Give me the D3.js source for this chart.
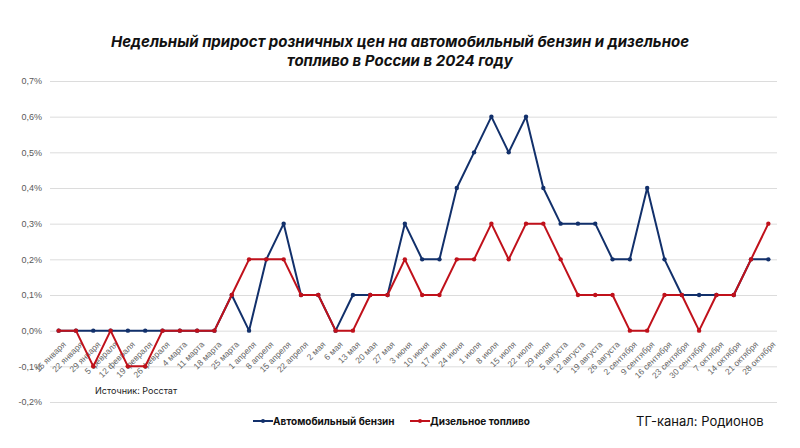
<!DOCTYPE html>
<html>
<head>
<meta charset="utf-8">
<script src="https://cdn.jsdelivr.net/npm/d3@7"></script>
<style>
  body { margin: 0; background: #fff; }
  svg { display: block; font-family: Inter, "Noto Sans", sans-serif; }
</style>
</head>
<body>
<div id="graph"></div>
<script>
// weeks (labels under the axis)
const weeks = ["15 января", "22 января", "29 января", "5 февраля", "12 февраля", "19 февраля", "26 февраля",
  "4 марта", "11 марта", "18 марта", "25 марта", "1 апреля", "8 апреля", "15 апреля", "22 апреля",
  "2 мая", "6 мая", "13 мая", "20 мая", "27 мая", "3 июня", "10 июня", "17 июня", "24 июня",
  "1 июля", "8 июля", "15 июля", "22 июля", "29 июля", "5 августа", "12 августа", "19 августа",
  "26 августа", "2 сентября", "9 сентября", "16 сентября", "23 сентября", "30 сентября",
  "7 октября", "14 октября", "21 октября", "28 октября"];

// weekly growth, %
const benzin = [0, 0, 0, 0, 0, 0, 0, 0, 0, 0, 0.1, 0, 0.2, 0.3, 0.1, 0.1, 0, 0.1, 0.1, 0.1, 0.3,
  0.2, 0.2, 0.4, 0.5, 0.6, 0.5, 0.6, 0.4, 0.3, 0.3, 0.3, 0.2, 0.2, 0.4, 0.2, 0.1, 0.1, 0.1, 0.1, 0.2, 0.2];
const dizel = [0, 0, -0.1, 0, -0.1, -0.1, 0, 0, 0, 0, 0.1, 0.2, 0.2, 0.2, 0.1, 0.1, 0, 0, 0.1, 0.1, 0.2,
  0.1, 0.1, 0.2, 0.2, 0.3, 0.2, 0.3, 0.3, 0.2, 0.1, 0.1, 0.1, 0, 0, 0.1, 0.1, 0, 0.1, 0.1, 0.2, 0.3];

const yTicks = [-0.2, -0.1, 0, 0.1, 0.2, 0.3, 0.4, 0.5, 0.6, 0.7];

const series = [
  {name: "Автомобильный бензин", values: benzin, color: "#12306b"},
  {name: "Дизельное топливо", values: dizel, color: "#c0111b"}
];

const width = 800, height = 448;
const plot = {left: 50, right: 777, top: 81, bottom: 402};

const svg = d3.select("#graph").append("svg")
    .attr("width", width)
    .attr("height", height);

const step = (plot.right - plot.left) / weeks.length;
const x = d3.scalePoint()
    .domain(weeks)
    .range([plot.left + step / 2, plot.right - step / 2]);
const y = d3.scaleLinear()
    .domain([-0.2, 0.7])
    .range([plot.bottom, plot.top]);

const fmt = d => d3.format(".1f")(d).replace(".", ",").replace("−", "-") + "%";

// title
svg.append("text")
    .attr("x", 400).attr("y", 47)
    .attr("text-anchor", "middle")
    .style("font-size", "15px").style("font-weight", "bold").style("font-style", "italic")
    .style("fill", "#111")
    .text("Недельный прирост розничных цен на автомобильный бензин и дизельное");
svg.append("text")
    .attr("x", 400).attr("y", 66)
    .attr("text-anchor", "middle")
    .style("font-size", "15px").style("font-weight", "bold").style("font-style", "italic")
    .style("fill", "#111")
    .text("топливо в России в 2024 году");

// grid + y labels
const yAxis = svg.append("g")
    .attr("transform", "translate(" + plot.left + ",0)")
    .call(d3.axisLeft(y).tickValues(yTicks).tickFormat(fmt)
      .tickSize(-(plot.right - plot.left)).tickPadding(8));
yAxis.select(".domain").remove();
yAxis.selectAll("line").attr("stroke", "#dcdcdc");
yAxis.selectAll("text").style("font-size", "9px").style("fill", "#595959");

// x labels along the zero line
const xAxis = svg.append("g")
    .attr("transform", "translate(0," + y(0) + ")")
    .call(d3.axisBottom(x).tickSize(0));
xAxis.select(".domain").remove();
xAxis.selectAll("text")
    .style("font-size", "8.5px").style("fill", "#666")
    .attr("text-anchor", "end")
    .attr("dy", "0.35em")
    .attr("transform", "translate(3,10) rotate(-45)");

// lines
const line = d3.line()
    .x((d, i) => x(weeks[i]))
    .y(d => y(d));

series.forEach(s => {
  svg.append("path")
      .datum(s.values)
      .attr("fill", "none")
      .attr("stroke", s.color)
      .attr("stroke-width", 2)
      .attr("stroke-linejoin", "round")
      .attr("d", line);
  svg.append("g").selectAll("circle")
      .data(s.values)
      .enter().append("circle")
      .attr("cx", (d, i) => x(weeks[i]))
      .attr("cy", d => y(d))
      .attr("r", 2.2)
      .attr("fill", s.color);
});

// source
svg.append("text")
    .attr("x", 95).attr("y", 394)
    .style("font-size", "9px").style("fill", "#222")
    .text("Источник: Росстат");

// legend
const legendX = [253, 410];
series.forEach((s, i) => {
  const g = svg.append("g").attr("transform", "translate(" + legendX[i] + ",421)");
  g.append("line").attr("x1", 0).attr("x2", 20).attr("y1", 0).attr("y2", 0)
      .attr("stroke", s.color).attr("stroke-width", 2);
  g.append("circle").attr("cx", 10).attr("cy", 0).attr("r", 2).attr("fill", s.color);
  g.append("text").attr("x", 20).attr("y", 3.5)
      .style("font-size", "10px").style("font-weight", "bold").style("fill", "#111")
      .text(s.name);
});

svg.append("text")
    .attr("x", 636).attr("y", 426)
    .style("font-size", "13px").style("fill", "#111")
    .text("ТГ-канал: Родионов");
</script>
</body>
</html>
